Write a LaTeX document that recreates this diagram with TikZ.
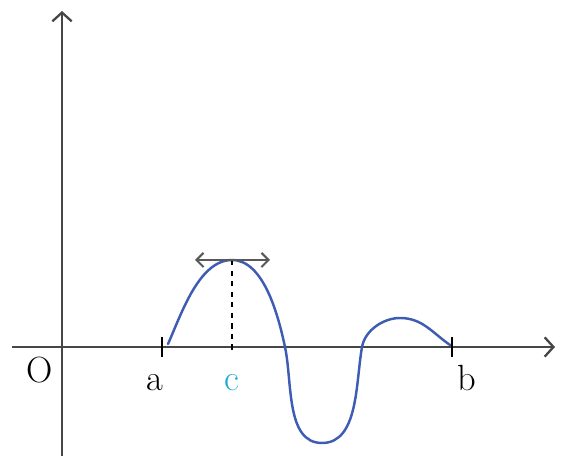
\documentclass[tikz,border=0pt]{standalone}
\usetikzlibrary{arrows.meta}
\definecolor{curveBlue}{RGB}{62,92,178}
\definecolor{pointCyan}{RGB}{30,170,210}
\definecolor{axisGray}{RGB}{70,70,70}

\begin{document}
\begin{tikzpicture}[
  font=\huge,
  axis/.style={
    axisGray,
    line width=1.1pt,
    -{Straight Barb[length=5pt, width=11pt, line width=1.3pt]},
  },
  tick/.style={black, line width=1.6pt},
  graph/.style={curveBlue, line width=1.4pt, line join=round, line cap=round},
  tangent/.style={
    black!65,
    line width=1.1pt,
    {Straight Barb[length=4pt, width=8pt, line width=1.2pt]}-{Straight Barb[length=4pt, width=8pt, line width=1.2pt]},
  },
  lbl/.style={inner sep=1pt},
]

  \useasboundingbox (-1.24,-2.18) rectangle (9.98,6.94);

  \coordinate (O) at (0,0);
  \coordinate (xL) at (-1.0,0);
  \coordinate (xR) at (9.86,0);
  \coordinate (yB) at (0,-2.18);
  \coordinate (yT) at (0,6.72);

  \draw[axis] (xL) -- (xR);
  \draw[axis] (yB) -- (yT);

  \coordinate (A) at (2.0,0);
  \coordinate (B) at (7.8,0);
  \coordinate (C) at (3.4,0);
  \coordinate (M) at (3.4,1.74);

  \draw[tick] ([yshift=-0.2cm]A) -- ([yshift=0.2cm]A);
  \draw[tick] ([yshift=-0.2cm]B) -- ([yshift=0.2cm]B);

  \node[lbl] (labO) at (-0.44,-0.46) {O};
  \node[lbl] (labA) at (1.86,-0.72) {a};
  \node[lbl, text=pointCyan] (labC) at (3.4,-0.72) {c};
  \node[lbl] (labB) at (8.1,-0.62) {b};

  % graph of the function on [a,b]
  \draw[graph] (2.12,0.06) to[out=66, in=180, looseness=0.8] (M)
    to[out=0, in=102, looseness=0.8] (4.46,0)
    to[out=-78, in=180, looseness=0.9] (5.20,-1.92)
    to[out=0, in=-100, looseness=0.9] (6.00,0)
    to[out=80, in=180, looseness=0.9] (6.76,0.58)
    to[out=0, in=145] (7.76,0.04);

  \draw[black, line width=1.1pt, dashed] (M) -- ([yshift=-0.1cm]C);
  \coordinate (tL) at (2.66,1.74);
  \coordinate (tR) at (4.16,1.74);
  \draw[tangent] (tL) -- (tR);

\end{tikzpicture}
\end{document}
